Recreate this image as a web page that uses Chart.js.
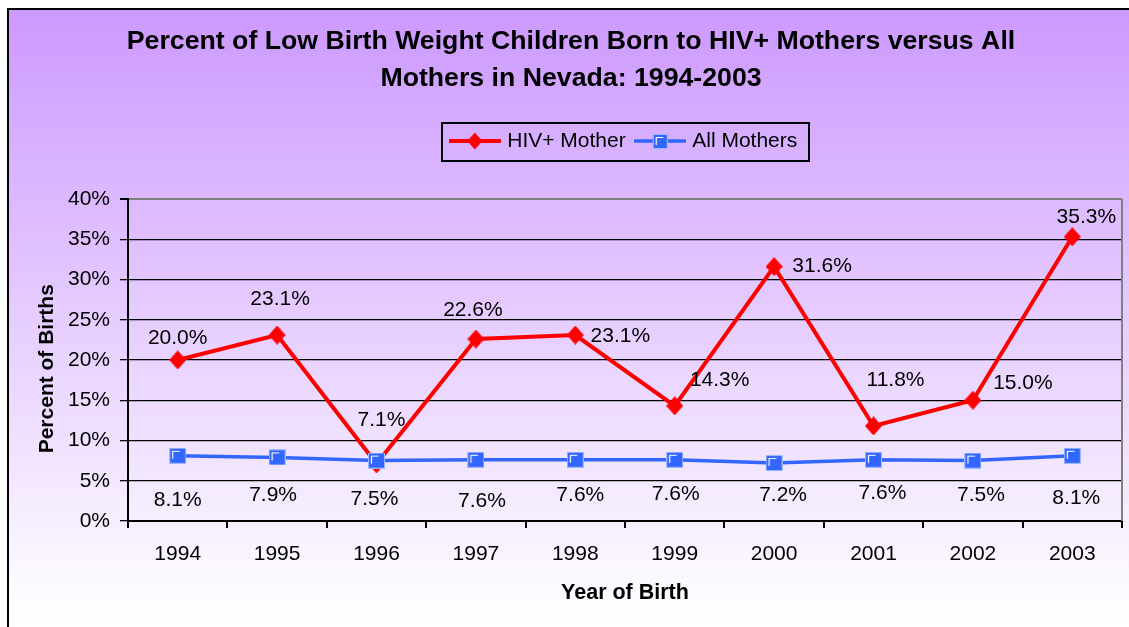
<!DOCTYPE html>
<html>
<head>
<meta charset="utf-8">
<script src="https://cdn.jsdelivr.net/npm/chart.js@4.4.1/dist/chart.umd.min.js"></script>
<style>
html,body{margin:0;padding:0;background:#fff;overflow:hidden}
canvas{display:block}
</style>
</head>
<body>
<canvas id="c" width="1129" height="627"></canvas>
<script>
// ---- data ----
const years = ['1994','1995','1996','1997','1998','1999','2000','2001','2002','2003'];
const hivMother = [20.0, 23.1, 7.1, 22.6, 23.1, 14.3, 31.6, 11.8, 15.0, 35.3];
const allMothers = [8.1, 7.9, 7.5, 7.6, 7.6, 7.6, 7.2, 7.6, 7.5, 8.1];
const seriesNames = ['HIV+ Mother', 'All Mothers'];
const titleLines = ['Percent of Low Birth Weight Children Born to HIV+ Mothers versus All', 'Mothers in Nevada: 1994-2003'];
const yAxisTitle = 'Percent of Births';
const xAxisTitle = 'Year of Birth';

// ---- label placement (pixel offsets from each point) ----
const hivLabelOffsets = [[0,-22],[3,-36],[5,-44],[-3,-29],[45,1],[45,-26],[48,0],[22,-46],[50,-17],[14,-20]];
const allLabelOffsets = [[0,44],[-4,38],[-2,39],[6,41],[5,35],[1,34],[9,32],[9,33],[8,35],[4,42]];

const FONT = "'Liberation Sans', Arial, sans-serif";
Chart.defaults.font.family = FONT;
Chart.defaults.color = '#000';

const RED = '#FF0000';
const BLUE = '#3366FF';

function diamondCanvas(w, h, withLine) {
  const cw = withLine ? 52 : w, ch = withLine ? 22 : h;
  const c = document.createElement('canvas');
  c.width = cw; c.height = ch;
  const x = c.getContext('2d');
  if (withLine) {
    x.strokeStyle = RED; x.lineWidth = 4;
    x.beginPath(); x.moveTo(0, ch/2); x.lineTo(cw, ch/2); x.stroke();
  }
  const cx = cw/2, cy = ch/2;
  x.fillStyle = RED;
  x.beginPath();
  x.moveTo(cx, cy - h/2); x.lineTo(cx + w/2, cy); x.lineTo(cx, cy + h/2); x.lineTo(cx - w/2, cy);
  x.closePath(); x.fill();
  return c;
}
function squareCanvas(w, h, withLine) {
  const cw = withLine ? 52 : w, ch = withLine ? 22 : h;
  const c = document.createElement('canvas');
  c.width = cw; c.height = ch;
  const x = c.getContext('2d');
  if (withLine) {
    x.strokeStyle = BLUE; x.lineWidth = 3.5;
    x.beginPath(); x.moveTo(0, ch/2); x.lineTo(cw, ch/2); x.stroke();
  }
  const l = Math.round(cw/2 - w/2), t = Math.round(ch/2 - h/2);
  x.fillStyle = BLUE;
  x.fillRect(l, t, w, h);
  x.strokeStyle = 'rgba(170,195,255,0.9)'; x.lineWidth = 1;
  x.strokeRect(l + 0.5, t + 0.5, w - 1, h - 1);
  x.strokeStyle = '#FFFFFF'; x.lineWidth = 1.2;
  x.beginPath(); x.moveTo(l + 3.5, t + 11); x.lineTo(l + 3.5, t + 3.5); x.lineTo(l + 10.5, t + 3.5); x.stroke();
  return c;
}
const diamondMark = diamondCanvas(17, 19, false);
const squareMark = squareCanvas(17, 16, false);
const legendIcons = [diamondCanvas(15, 17, true), squareCanvas(15, 15, true)];
const labelOffsets = [hivLabelOffsets, allLabelOffsets];

const framePlugin = {
  id: 'frame',
  beforeDraw(chart) {
    const {ctx, width, height} = chart;
    ctx.save();
    ctx.fillStyle = '#FFFFFF';
    ctx.fillRect(0, 0, width, height);
    const g = ctx.createLinearGradient(0, 9, 0, 620);
    g.addColorStop(0, '#CC99FF');
    g.addColorStop(1, '#FFFFFF');
    ctx.fillStyle = g;
    ctx.fillRect(8, 9, width - 8, height - 9);
    ctx.strokeStyle = '#000'; ctx.lineWidth = 2;
    ctx.beginPath(); ctx.moveTo(8, height); ctx.lineTo(8, 9); ctx.lineTo(width, 9); ctx.stroke();
    ctx.restore();
  },
  beforeDatasetsDraw(chart) {
    const {ctx, chartArea} = chart;
    ctx.save();
    ctx.strokeStyle = '#808080'; ctx.lineWidth = 2;
    ctx.beginPath(); ctx.moveTo(chartArea.right, chartArea.top); ctx.lineTo(chartArea.right, chartArea.bottom); ctx.stroke();
    ctx.restore();
  },
  afterDatasetsDraw(chart) {
    const ctx = chart.ctx;
    ctx.save();
    ctx.font = '21px ' + FONT;
    ctx.fillStyle = '#000'; ctx.textAlign = 'center'; ctx.textBaseline = 'middle';
    chart.data.datasets.forEach((ds, di) => {
      const meta = chart.getDatasetMeta(di);
      meta.data.forEach((pt, i) => {
        const o = labelOffsets[di][i];
        ctx.fillText(ds.data[i].toFixed(1) + '%', pt.x + o[0], pt.y + o[1]);
      });
    });
    ctx.restore();
  },
  afterDraw(chart) {
    const hb = chart.legend && chart.legend.legendHitBoxes;
    if (!hb || !hb.length) return;
    const first = hb[0], last = hb[hb.length - 1];
    const cy = first.top + 10.5;
    const ctx = chart.ctx;
    ctx.save();
    ctx.strokeStyle = '#000'; ctx.lineWidth = 2;
    const l = Math.round(first.left - 11), r = Math.round(last.left + last.width + 12);
    const t = Math.round(cy - 18), b = Math.round(cy + 20);
    ctx.strokeRect(l, t, r - l, b - t);
    ctx.restore();
  }
};

new Chart(document.getElementById('c'), {
  type: 'line',
  data: {
    labels: years,
    datasets: [
      { label: seriesNames[0], data: hivMother, borderColor: RED, backgroundColor: RED, borderWidth: 4,
        pointStyle: diamondMark, pointRadius: 9, pointHoverRadius: 9, tension: 0, order: 1 },
      { label: seriesNames[1], data: allMothers, borderColor: BLUE, backgroundColor: BLUE, borderWidth: 3.5,
        pointStyle: squareMark, pointRadius: 8, pointHoverRadius: 8, tension: 0, order: 0 }
    ]
  },
  options: {
    responsive: false,
    animation: false,
    devicePixelRatio: 1,
    events: [],
    layout: { autoPadding: false, padding: { left: 20, right: 7, top: 0, bottom: 0 } },
    plugins: {
      title: { display: true, text: titleLines, color: '#000',
        font: { size: 26.7, weight: 'bold', lineHeight: 1.4 }, padding: { top: 22.6, bottom: 21.1 } },
      subtitle: { display: true, text: '', weight: 500, font: { size: 10, lineHeight: 1 }, padding: { top: 27.5, bottom: 0 } },
      legend: {
        display: true, position: 'top', fullSize: false,
        labels: {
          usePointStyle: true, pointStyleWidth: 44, padding: 12, color: '#000', font: { size: 21 },
          generateLabels: (chart) => chart.data.datasets.map((ds, i) => ({
            text: ds.label, pointStyle: legendIcons[i], fillStyle: ds.borderColor, strokeStyle: ds.borderColor,
            lineWidth: 0, hidden: false, datasetIndex: i, fontColor: '#000'
          }))
        }
      },
      tooltip: { enabled: false }
    },
    scales: {
      x: {
        offset: true,
        grid: { offset: true, drawOnChartArea: false, drawTicks: true, tickLength: 7, color: '#000', lineWidth: 2 },
        border: { color: '#000', width: 2 },
        ticks: { font: { size: 21 }, color: '#000', padding: 14, maxRotation: 0, autoSkip: false },
        title: { display: true, text: xAxisTitle, color: '#000', font: { size: 21.5, weight: 'bold' }, padding: { top: 0, bottom: 21 } },
        afterFit: (s) => { s.height = 106; s.paddingLeft = 0; s.paddingRight = 0; }
      },
      y: {
        min: 0, max: 40,
        ticks: { stepSize: 5, callback: (v) => v + '%', font: { size: 21 }, color: '#000', padding: 10 },
        grid: {
          color: (c) => (c.tick && c.tick.value === 40) ? '#808080' : '#000',
          tickColor: '#000', tickLength: 8,
          lineWidth: (c) => (c.tick && c.tick.value === 40) ? 2 : 1.3
        },
        border: { color: '#000', width: 2 },
        title: { display: true, text: yAxisTitle + '   ', color: '#000', font: { size: 21, weight: 'bold' }, padding: { top: 15, bottom: 0 } },
        afterFit: (s) => { s.width = 108; }
      }
    }
  },
  plugins: [framePlugin]
});
</script>
</body>
</html>
